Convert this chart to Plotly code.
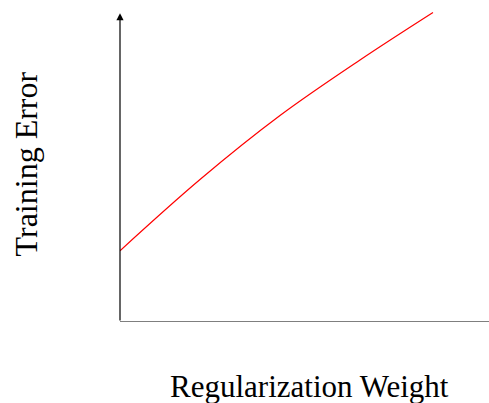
import plotly.graph_objects as go

# Curve sample points (axis units)
reg_weight = [0.0, 2.556, 5.112, 7.668, 10.0]
train_error = [2.278, 4.553, 6.597, 8.371, 9.888]

x_label = "Regularization Weight"
y_label = "Training Error"

x_max = 11.79
y_max = 10.29
y_arrow = 9.87

fig = go.Figure()
fig.add_trace(go.Scatter(x=reg_weight, y=train_error, mode="lines",
                         line=dict(color="red", width=1.2, shape="spline", smoothing=1.0),
                         hoverinfo="skip", showlegend=False))

# x axis line
fig.add_shape(type="line", x0=0, y0=0, x1=x_max, y1=0, xref="x", yref="y",
              line=dict(color="black", width=1.2))
# y axis arrow
fig.add_annotation(x=0, y=y_arrow, ax=0, ay=0, xref="x", yref="y", axref="x", ayref="y",
                   showarrow=True, arrowhead=2, arrowsize=1.2, arrowwidth=1.2,
                   arrowcolor="black", text="")

fig.add_annotation(text=x_label, xref="paper", yref="paper", x=0.513, y=-0.199,
                   showarrow=False, xanchor="center", yanchor="middle",
                   font=dict(family="Liberation Serif", size=31, color="black"))
fig.add_annotation(text=y_label, xref="paper", yref="paper", x=-0.256, y=0.491,
                   showarrow=False, xanchor="center", yanchor="middle", textangle=-90,
                   font=dict(family="Liberation Serif", size=32, color="black"))

fig.update_layout(
    width=489, height=403,
    margin=dict(l=120, r=0, t=0, b=81),
    paper_bgcolor="white", plot_bgcolor="white",
    xaxis=dict(range=[0, x_max], visible=False, fixedrange=True),
    yaxis=dict(range=[0, y_max], visible=False, fixedrange=True),
    showlegend=False,
)

fig.write_html("out.html", config={"displayModeBar": False},
               post_script="document.body.style.margin='0';document.body.style.padding='0';")
